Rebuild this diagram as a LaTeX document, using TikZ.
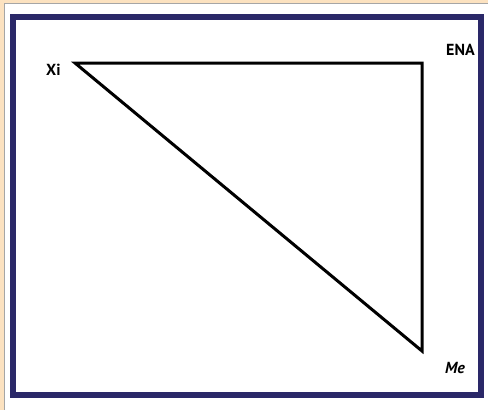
\documentclass[tikz,border=0pt]{standalone}
\usepackage{fontspec}
\setmainfont{PT Sans}
\begin{document}
\begin{tikzpicture}[x=1pt,y=-1pt,
  lbl/.style={font=\bfseries\fontsize{16}{18}\selectfont, inner sep=0pt},
  tri/.style={line width=3pt, black, line join=miter},
  frame/.style={line width=5.5pt, draw=navy}]
\definecolor{navy}{HTML}{2A2868}
\definecolor{peach}{HTML}{FCE2C0}
\useasboundingbox (0,0) rectangle (488,410);
\fill[peach] (0,0) rectangle (488,410);
\filldraw[fill=white, draw=gray!70, line width=1pt] (4,3) rectangle (492,414);
\draw[frame] (13,17) rectangle (481,395);
\coordinate (xi) at (75,63);
\coordinate (ena) at (422,63);
\coordinate (me) at (422,351);
\draw[tri] (xi) -- (ena) -- (me) -- cycle;
\node[lbl, anchor=west] (lxi) at (46,70) {Xi};
\node[lbl, anchor=west] (lena) at (446,50) {ENA};
\node[lbl, anchor=west] (lme) at (445,368) {\itshape Me};
\end{tikzpicture}
\end{document}
